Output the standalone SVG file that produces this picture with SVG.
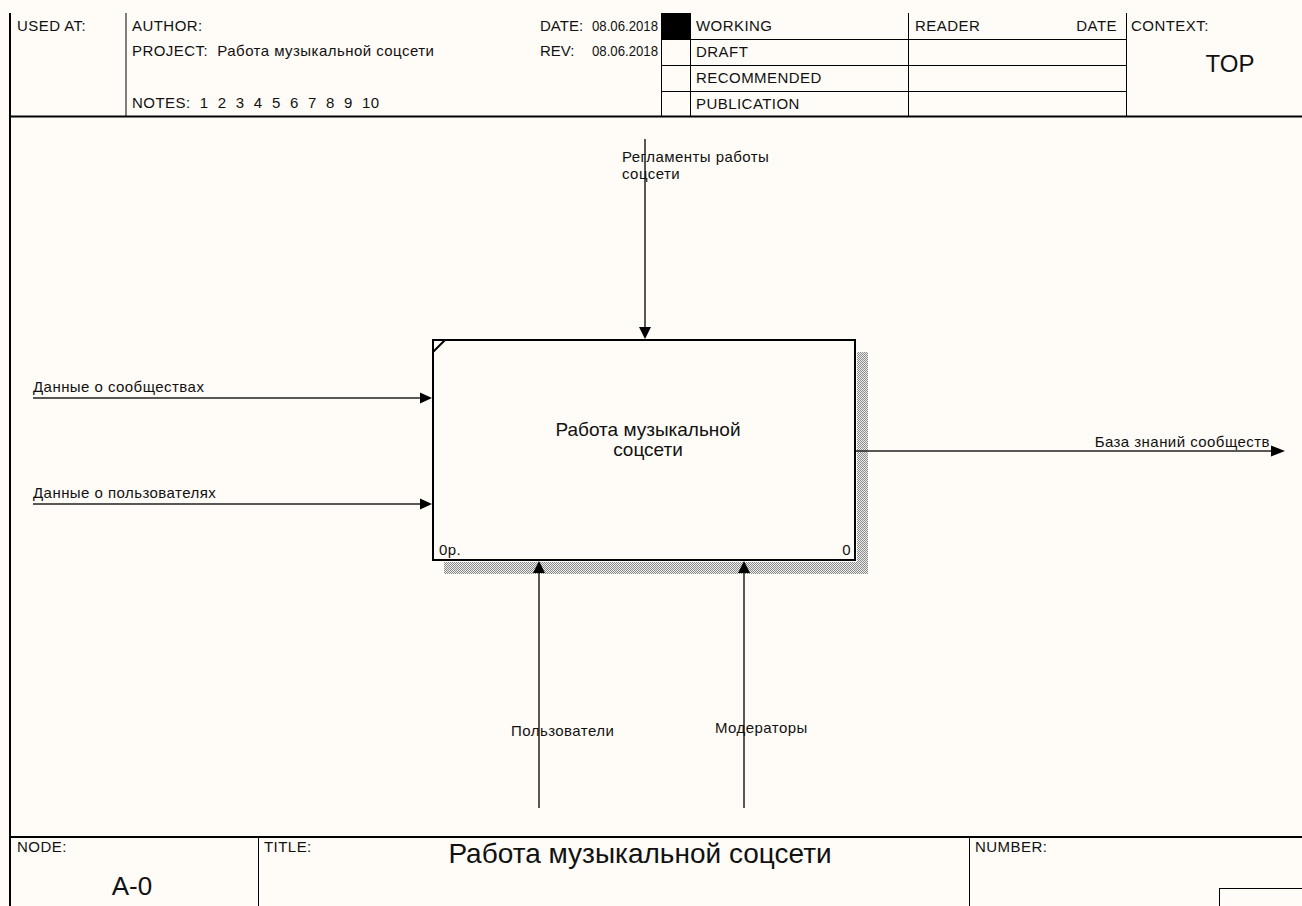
<svg xmlns="http://www.w3.org/2000/svg" width="1302" height="906" viewBox="0 0 1302 906">
  <style>
    text { font-family: "Liberation Sans", Arial, sans-serif; fill: #111; }
    .t { font-size: 15px; letter-spacing: 0.45px; }
    .d { font-size: 15px; }
    .frame { stroke: #000; stroke-width: 1; fill: none; }
    .heavy { stroke: #000; stroke-width: 2; fill: none; }
    .arrow { stroke: #222; stroke-width: 1.5; fill: none; }
    .head { fill: #000; stroke: none; }
  </style>
  <defs>
    <pattern id="hatch" width="2" height="2" patternUnits="userSpaceOnUse">
      <rect width="2" height="2" fill="#eeeeee"/>
      <rect width="1" height="1" fill="#8a8a8a"/>
      <rect x="1" y="1" width="1" height="1" fill="#8a8a8a"/>
    </pattern>
  </defs>

  <rect width="1302" height="906" fill="#fffcf7"/>

  <!-- header block -->
  <g id="header">
    <line class="heavy" x1="10" y1="13" x2="10" y2="906" stroke-width="2.5"/>
    <line class="heavy" x1="9" y1="116.5" x2="1302" y2="116.5"/>
    <line class="frame" x1="126" y1="13" x2="126" y2="116"/>
    <line class="frame" x1="661.5" y1="13" x2="661.5" y2="116"/>
    <line class="frame" x1="690.5" y1="13" x2="690.5" y2="116"/>
    <line class="frame" x1="908.5" y1="13" x2="908.5" y2="116"/>
    <line class="frame" x1="1126.5" y1="13" x2="1126.5" y2="116"/>
    <line class="frame" x1="661" y1="39.5" x2="1126" y2="39.5"/>
    <line class="frame" x1="661" y1="65.5" x2="1126" y2="65.5"/>
    <line class="frame" x1="661" y1="91.5" x2="1126" y2="91.5"/>
    <rect x="661" y="13" width="29" height="26" fill="#000"/>

    <text class="t" x="17" y="31">USED AT:</text>
    <text class="t" x="132" y="31">AUTHOR:</text>
    <text class="t" x="132" y="56" xml:space="preserve">PROJECT:  Работа музыкальной соцсети</text>
    <text class="t" x="132" y="108" xml:space="preserve">NOTES:  1  2  3  4  5  6  7  8  9  10</text>
    <text class="d" x="540" y="31">DATE:</text>
    <text class="d" x="658" y="31" text-anchor="end" textLength="66" lengthAdjust="spacingAndGlyphs">08.06.2018</text>
    <text class="d" x="540" y="56">REV:</text>
    <text class="d" x="658" y="56" text-anchor="end" textLength="66" lengthAdjust="spacingAndGlyphs">08.06.2018</text>
    <text class="t" x="696" y="31">WORKING</text>
    <text class="t" x="696" y="57">DRAFT</text>
    <text class="t" x="696" y="83">RECOMMENDED</text>
    <text class="t" x="696" y="109">PUBLICATION</text>
    <text class="t" x="915" y="31">READER</text>
    <text class="t" x="1117" y="31" text-anchor="end">DATE</text>
    <text class="t" x="1131" y="31">CONTEXT:</text>
    <text x="1230" y="72" font-size="24" text-anchor="middle">TOP</text>
  </g>

  <!-- activity box A0 -->
  <g id="node-a0">
    <rect x="857" y="352" width="11" height="222" fill="url(#hatch)"/>
    <rect x="444" y="562" width="424" height="12" fill="url(#hatch)"/>
    <rect x="433" y="340" width="422" height="220" fill="#fffcf7" stroke="#000" stroke-width="2"/>
    <line class="heavy" x1="433" y1="352" x2="445" y2="340"/>
    <text x="648" y="436" font-size="19" text-anchor="middle">Работа музыкальной</text>
    <text x="648" y="456" font-size="19" text-anchor="middle">соцсети</text>
    <text class="t" x="439" y="555">0р.</text>
    <text class="t" x="851" y="555" text-anchor="end">0</text>
  </g>

  <!-- ICOM arrows -->
  <g id="connectors">
    <line class="arrow" x1="645" y1="139" x2="645" y2="330"/>
    <polygon class="head" points="639,327 651,327 645,339"/>

    <line class="arrow" x1="33" y1="398" x2="422" y2="398"/>
    <polygon class="head" points="420,392.5 420,403.5 432,398"/>

    <line class="arrow" x1="33" y1="504" x2="422" y2="504"/>
    <polygon class="head" points="420,498.5 420,509.5 432,504"/>

    <line class="arrow" x1="856" y1="451" x2="1274" y2="451"/>
    <polygon class="head" points="1271,445.5 1271,456.5 1285,451"/>

    <line class="arrow" x1="539" y1="808" x2="539" y2="570"/>
    <polygon class="head" points="533,573 545,573 539,561"/>

    <line class="arrow" x1="744" y1="808" x2="744" y2="570"/>
    <polygon class="head" points="738,573 750,573 744,561"/>
  </g>

  <!-- arrow labels -->
  <g id="labels">
    <text class="t" x="622" y="162">Регламенты работы</text>
    <text class="t" x="622" y="179">соцсети</text>
    <text class="t" x="33" y="392">Данные о сообществах</text>
    <text class="t" x="33" y="498">Данные о пользователях</text>
    <text class="t" x="1270" y="447" text-anchor="end">База знаний сообществ</text>
    <text class="t" x="511" y="736">Пользователи</text>
    <text class="t" x="715" y="733">Модераторы</text>
  </g>

  <!-- footer block -->
  <g id="footer">
    <line class="heavy" x1="9" y1="837" x2="1302" y2="837"/>
    <line class="frame" x1="258.5" y1="837" x2="258.5" y2="906"/>
    <line class="frame" x1="969.5" y1="837" x2="969.5" y2="906"/>
    <rect x="1219.5" y="888.5" width="90" height="30" class="frame"/>
    <text class="t" x="17" y="852">NODE:</text>
    <text x="132" y="895" font-size="26" text-anchor="middle">A-0</text>
    <text class="t" x="264" y="852">TITLE:</text>
    <text x="640" y="863" font-size="28" text-anchor="middle">Работа музыкальной соцсети</text>
    <text class="t" x="975" y="852">NUMBER:</text>
  </g>
</svg>
